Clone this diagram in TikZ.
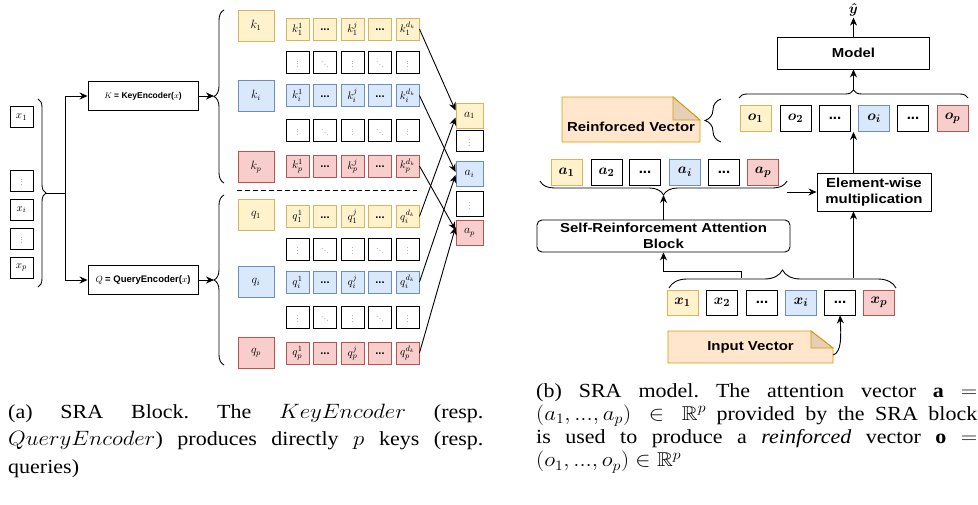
\documentclass[tikz,border=0pt]{standalone}
\usepackage{amsmath,amssymb}
\usepackage{graphicx}
\usepackage{fontspec}
\setmainfont{Liberation Serif}
\newfontfamily\hv{Liberation Sans}
\newfontfamily\hvs[FakeStretch=1.15]{Liberation Sans}
\usetikzlibrary{arrows.meta,decorations.pathreplacing,calc}
\definecolor{yf}{HTML}{FFF2CC}\definecolor{yd}{HTML}{D6B656}
\definecolor{bf}{HTML}{DAE8FC}\definecolor{bd}{HTML}{6C8EBF}
\definecolor{rf}{HTML}{F8CECC}\definecolor{rd}{HTML}{B85450}
\definecolor{nf}{HTML}{FFE6CC}\definecolor{nd}{HTML}{D79B00}
\definecolor{nk}{HTML}{E6CFB8}
\newcommand\vdt{\textcolor{gray}{\scalebox{0.7}{$\vdots$}}}
\newcommand\ddt{\textcolor{gray}{\scalebox{0.7}{$\ddots$}}}
\newcommand\lw[1]{\raisebox{-3pt}{#1}}
\newcommand\bdots{{\hv\bfseries ...}}
\frenchspacing
\begin{document}
\begin{tikzpicture}[x=1pt,y=-1pt,
  bx/.style={draw=black, line width=0.9pt, inner sep=0pt, fill=white},
  yb/.style={bx, fill=yf, draw=yd},
  bb/.style={bx, fill=bf, draw=bd},
  rb/.style={bx, fill=rf, draw=rd},
  wb/.style={bx},
  cell/.style={minimum width=23pt, minimum height=22pt, font=\fontsize{11}{13}\selectfont},
  big/.style={minimum width=36pt, minimum height=31pt, font=\fontsize{12}{14}\selectfont},
  acell/.style={minimum width=27pt, minimum height=25pt, font=\fontsize{11.5}{13}\selectfont},
  xcell/.style={minimum width=23pt, minimum height=21pt, font=\fontsize{11}{13}\selectfont},
  enc/.style={bx, minimum width=110pt, minimum height=29pt},
  vb/.style={minimum width=31pt, minimum height=26pt, font=\fontsize{15}{17}\selectfont},
  blk/.style={bx, align=center},
  btxt/.style={font=\hvs\bfseries\fontsize{13}{15}\selectfont},
  arr/.style={-{Stealth[length=8pt,width=7pt]}, line width=0.9pt},
  brc/.style={decorate, decoration={brace, amplitude=#1}, line width=0.9pt},
  note/.style={fill=nf, draw=nd, line width=0.9pt},
  fold/.style={fill=nk, draw=nd, line width=0.9pt},
  captxt/.style={anchor=base west, inner sep=0pt, align=justify, xscale=1.1, transform shape},
]
\useasboundingbox (0,0) rectangle (978,504);

% ---------------- panel (a) ----------------
\node[wb,xcell] (x1) at (21.5,117) {$x_1$};
\node[wb,xcell] (xd1) at (21.5,180.5) {\vdt};
\node[wb,xcell] (xi) at (21.5,209.5) {$x_i$};
\node[wb,xcell] (xd2) at (21.5,238.5) {\vdt};
\node[wb,xcell] (xp) at (21.5,267.5) {$x_p$};
\draw[brc=8pt] (38,99) -- (38,287);
\coordinate (xtip) at (46,193);

\node[enc] (kenc) at (143,96) {\fontsize{8.5}{10}\selectfont $K$ {\hv\bfseries = KeyEncoder(}$x${\hv\bfseries )}};
\node[enc] (qenc) at (143,280) {\fontsize{9.5}{11}\selectfont $Q$ {\hv\bfseries = QueryEncoder(}$x${\hv\bfseries )}};
\draw[arr] (xtip) -- ++(19,0) |- (kenc.west);
\draw[arr] (xtip) -- ++(19,0) |- (qenc.west);

\draw[brc=10pt] (224,183) -- (224,10);
\coordinate (ktip) at (214,96);
\draw[brc=10pt] (224,365) -- (224,195);
\coordinate (qtip) at (214,280);
\draw[arr] (kenc.east) -- (ktip);
\draw[arr] (qenc.east) -- (qtip);

\node[yb,big] (k1) at (256,25.5) {$k_1$};
\node[bb,big] (ki) at (256,95.5) {$k_i$};
\node[rb,big] (kp) at (256,167) {$k_p$};
\node[yb,big] (q1) at (256,215) {$q_1$};
\node[bb,big] (qi) at (256,282) {$q_i$};
\node[rb,big] (qp) at (256,353) {$q_p$};

\foreach \rn/\yy/\lt/\sbs/\sbt/\sty in {k1/29/k/1/1/yb, ki/95.5/k/i/i/bb, kp/166/k/p/p/rb, q1/216.5/q/1/i/yb, qi/282/q/i/i/bb, qp/353/q/p/p/rb}{
  \node[\sty,cell] (\rn c1) at (297.5,\yy) {\lw{$\lt_{\sbs}^{1}$}};
  \node[\sty,cell] (\rn c2) at (325,\yy) {\lw{\bdots}};
  \node[\sty,cell] (\rn c3) at (352.5,\yy) {\lw{$\lt_{\sbs}^{j}$}};
  \node[\sty,cell] (\rn c4) at (380,\yy) {\lw{\bdots}};
  \node[\sty,cell] (\rn c5) at (407.5,\yy) {\lw{$\lt_{\sbt}^{d_k}$}};
}
\foreach \rn/\yy in {kw1/62.5, kw2/130.5, qw1/249, qw2/317}{
  \node[wb,cell] (\rn c1) at (297.5,\yy) {\vdt};
  \node[wb,cell] (\rn c2) at (325,\yy) {\ddt};
  \node[wb,cell] (\rn c3) at (352.5,\yy) {\vdt};
  \node[wb,cell] (\rn c4) at (380,\yy) {\ddt};
  \node[wb,cell] (\rn c5) at (407.5,\yy) {\vdt};
}
\draw[line width=0.9pt, dash pattern=on 5pt off 3pt] (237,190) -- (417,190);

\node[yb,acell] (a1) at (469.5,115.5) {$a_1$};
\node[wb,acell,minimum height=21pt] (ad1) at (469.5,141) {\vdt};
\node[bb,acell] (ai) at (469.5,174) {$a_i$};
\node[wb,acell] (ad2) at (469.5,204) {\vdt};
\node[rb,acell] (ap) at (469.5,233) {$a_p$};

\draw[arr] (k1c5.east) -- ([yshift=5pt]a1.west);
\draw[arr] (q1c5.east) -- ([yshift=-2pt]a1.west);
\draw[arr] (kic5.east) -- ([yshift=2pt]ai.west);
\draw[arr] (qic5.east) -- ([yshift=-1pt]ai.west);
\draw[arr] (kpc5.east) -- ([yshift=3pt]ap.west);
\draw[arr] (qpc5.east) -- ([yshift=6pt]ap.west);

% ---------------- panel (b) ----------------
\node[font=\fontsize{14}{16}\selectfont, inner sep=1pt] (yhat) at (853.5,10) {$\boldsymbol{\hat{y}}$};
\node[blk, btxt, minimum width=152pt, minimum height=32pt] (model) at (853.5,53) {Model};
\draw[arr] (model.north) -- (yhat.south);

\foreach \n/\xx/\lab/\sty in {1/755.5/{$\boldsymbol{o_1}$}/yb, 2/795.5/{$\boldsymbol{o_2}$}/wb, 3/835/\bdots/wb, 4/874/{$\boldsymbol{o_i}$}/bb, 5/913/\bdots/wb, 6/952.5/{$\boldsymbol{o_p}$}/rb}{
  \node[\sty,vb] (o\n) at (\xx,118.5) {\lab};
}
\draw[brc=8pt] (739,98) -- (968,98);
\coordinate (otip) at (853.5,90);
\draw[arr] (otip) -- (model.south);
\draw[brc=16pt] (721,142) -- (721,99);

\filldraw[note] (562,97) -- (673,97) -- (700,120) -- (700,142) -- (562,142) -- cycle;
\filldraw[fold] (673,97) -- (673,120) -- (700,120) -- cycle;
\node[btxt] (rnote) at (631,127) {Reinforced Vector};

\foreach \n/\xx/\lab/\sty in {1/566.5/{$\boldsymbol{a_1}$}/yb, 2/606.5/{$\boldsymbol{a_2}$}/wb, 3/645/\bdots/wb, 4/685/{$\boldsymbol{a_i}$}/bb, 5/724/\bdots/wb, 6/763/{$\boldsymbol{a_p}$}/rb}{
  \node[\sty,vb] (av\n) at (\xx,172) {\lab};
}
\draw[brc=14pt] (787,181) -- (540,181);
\coordinate (atip) at (663.5,195);
\node[blk, rounded corners=5pt, minimum width=253pt, minimum height=32pt, font=\hvs\bfseries\fontsize{13}{15.5}\selectfont] (sra) at (663.5,236) {Self-Reinforcement Attention\\Block};
\draw[arr] (sra.north) -- (atip);
\node[blk, minimum width=114pt, minimum height=38pt, font=\hvs\bfseries\fontsize{13}{16.5}\selectfont] (ew) at (874,192) {Element-wise\\multiplication};
\coordinate (aend) at (787,192);
\draw[arr] (aend) -- (ew.west);
\draw[arr] (otip |- ew.north) -- (otip |- o3.south);

\foreach \n/\xx/\lab/\sty in {1/682.5/{$\boldsymbol{x_1}$}/yb, 2/722/{$\boldsymbol{x_2}$}/wb, 3/762/\bdots/wb, 4/801/{$\boldsymbol{x_i}$}/bb, 5/840/\bdots/wb, 6/879/{$\boldsymbol{x_p}$}/rb}{
  \node[\sty,vb,minimum height=25pt] (xv\n) at (\xx,302.5) {\lab};
}
\draw[brc=18pt] (669,288) -- (896,288);
\coordinate (xl) at (741,278);
\coordinate (xr) at (853.5,278);
\draw[arr] (xl) -- (741,271) -| (sra.south);
\draw[arr] (xr) -- (xr |- ew.south);

\filldraw[note] (668,331) -- (811,331) -- (833,348) -- (833,363) -- (668,363) -- cycle;
\filldraw[fold] (811,331) -- (811,348) -- (833,348) -- cycle;
\node[btxt, minimum width=165pt, minimum height=32pt, inner sep=0pt] (inote) at (750.5,347) {Input Vector};
\draw[arr] ([yshift=-8pt]inote.east) .. controls (842,352) and (841,335) .. (xv5.south);

% ---------------- captions ----------------
\begin{scope}[shift={(8,418)}]
\node[captxt, text width=432pt, font=\fontsize{20}{27.5}\selectfont] (capa) at (0,0)
 {(a) SRA Block. The $KeyEncoder$ (resp.\linebreak $QueryEncoder$) produces directly $p$ keys (resp.\linebreak queries)};
\end{scope}
\begin{scope}[shift={(536,397)}]
\node[captxt, text width=401pt, font=\fontsize{20}{23.3}\selectfont] (capb) at (0,0)
 {(b) SRA model. The attention vector $\mathbf{a}$ $=$\linebreak $(a_1, ..., a_p) \in \mathbb{R}^p$ provided by the SRA block\linebreak is used to produce a \textit{reinforced} vector $\mathbf{o}$ $=$\linebreak $(o_1, ..., o_p) \in \mathbb{R}^p$};
\end{scope}
\end{tikzpicture}
\end{document}
